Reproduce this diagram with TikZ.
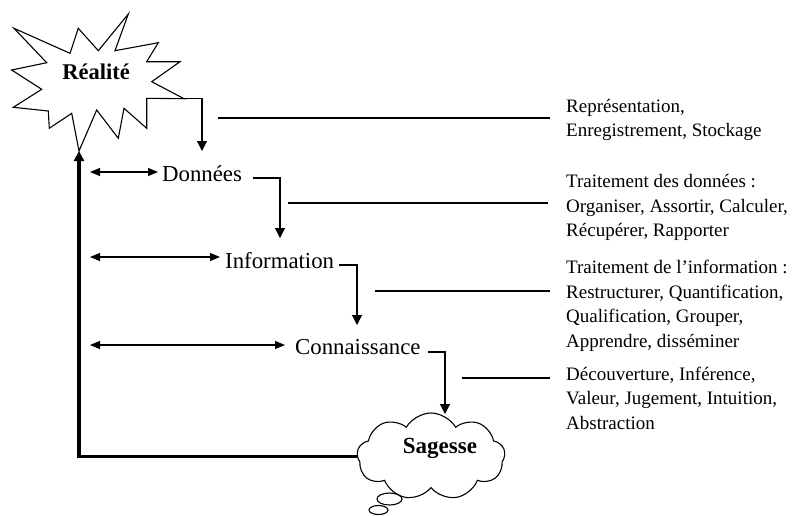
\documentclass[tikz,border=0pt]{standalone}
\usepackage{fontspec}
\setmainfont{Liberation Serif}
\usetikzlibrary{arrows.meta,shapes.symbols}
\tikzset{
  lbl/.style={inner sep=0pt, anchor=base west, font=\fontsize{22.8}{27}\selectfont},
  side/.style={inner sep=0pt, anchor=base west, align=left, font=\fontsize{19}{24.5}\selectfont},
  thinln/.style={line width=1.1pt},
  darr/.style={thinln, -{Triangle[width=10pt,length=10pt]}},
  dbl/.style={thinln, {Triangle[width=8pt,length=10pt]}-{Triangle[width=8pt,length=10pt]}},
  boldlbl/.style={inner sep=0pt, anchor=base, font=\bfseries\fontsize{22.5}{27}\selectfont},
}
\begin{document}
\begin{tikzpicture}[x=1pt,y=-1pt]
\useasboundingbox (0,0) rectangle (795,515);
% starburst
\draw[thinln, line join=miter] (128.3,14) -- (98.3,50.7) -- (78.3,28.3) -- (70,53.3) -- (14,28.3) -- (46.7,62.7) -- (11.7,70) -- (41.7,89.3) -- (13.3,107.3) -- (48.3,111) -- (49.3,128.3) -- (71.7,113.3) -- (79,151) -- (96.7,110) -- (118.3,138.3) -- (124,108.3) -- (146.7,128.3) -- (146.7,98.3) -- (184,98.7) -- (151.7,81.7) -- (180,61.7) -- (146.7,61.7) -- (158.3,42.7) -- (115,50.7) -- cycle;
\coordinate (rs) at (184,98.7);
\coordinate (bot) at (79,151);
\node[boldlbl] (real) at (96,79) {Réalité};
% cloud
\node[cloud, draw, thinln, cloud puffs=9, cloud puff arc=120, aspect=1.7, minimum width=148pt, minimum height=87pt, inner sep=0pt] (sag) at (431,456.5) {};
\node[boldlbl, font=\bfseries\fontsize{23}{27}\selectfont] (sagt) at (440,453) {Sagesse};
\draw[thinln] (389.5,499) ellipse [x radius=12.5pt, y radius=6pt];
\draw[thinln] (378.5,510) ellipse [x radius=9.5pt, y radius=4.5pt];
% labels
\node[lbl] (don) at (162,181.5) {Données};
\node[lbl] (inf) at (225,268) {Information};
\node[lbl] (con) at (295,354) {Connaissance};
% thick feedback
\draw[line width=3.5pt, -{Triangle[width=10pt,length=10pt]}] (sag.west) -| (bot);
% elbows
\coordinate (e0) at (202,151);
\draw[darr] (rs) -| (e0);
\coordinate (e1) at (280,238);
\draw[darr] ([shift={(11pt,3.5pt)}]don.base east) -| (e1);
\coordinate (e2) at (357,325);
\draw[darr] ([shift={(5pt,3pt)}]inf.base east) -| (e2);
\coordinate (e3) at (445,414);
\draw[darr] ([shift={(7pt,2pt)}]con.base east) -| (e3);
% double arrows
\coordinate (d1) at (90,172);
\draw[dbl] (d1) -- ([xshift=-4pt]d1 -| don.west);
\coordinate (d2) at (90,257);
\draw[dbl] (d2) -- ([xshift=-5pt]d2 -| inf.west);
\coordinate (d3) at (90,345);
\draw[dbl] (d3) -- ([xshift=-10pt]d3 -| con.west);
% right texts (base = last line)
\node[side] (t1) at (566,136.5) {Représentation,\\Enregistrement, Stockage};
\node[side] (t2) at (566,236.5) {Traitement des données :\\Organiser, Assortir, Calculer,\\Récupérer, Rapporter};
\node[side] (t3) at (566,347) {Traitement de l’information :\\Restructurer, Quantification,\\Qualification, Grouper,\\Apprendre, disséminer};
\node[side] (t4) at (566,429) {Découverture, Inférence,\\Valeur, Jugement, Intuition,\\Abstraction};
% right lines
\coordinate (r1) at (218,118);
\draw[thinln] (r1) -- ([xshift=-16pt]r1 -| t1.west);
\coordinate (r2) at (288,203);
\draw[thinln] (r2) -- ([xshift=-18pt]r2 -| t2.west);
\coordinate (r3) at (375,291);
\draw[thinln] (r3) -- ([xshift=-16pt]r3 -| t3.west);
\coordinate (r4) at (462,378);
\draw[thinln] (r4) -- ([xshift=-16pt]r4 -| t4.west);
\end{tikzpicture}
\end{document}
